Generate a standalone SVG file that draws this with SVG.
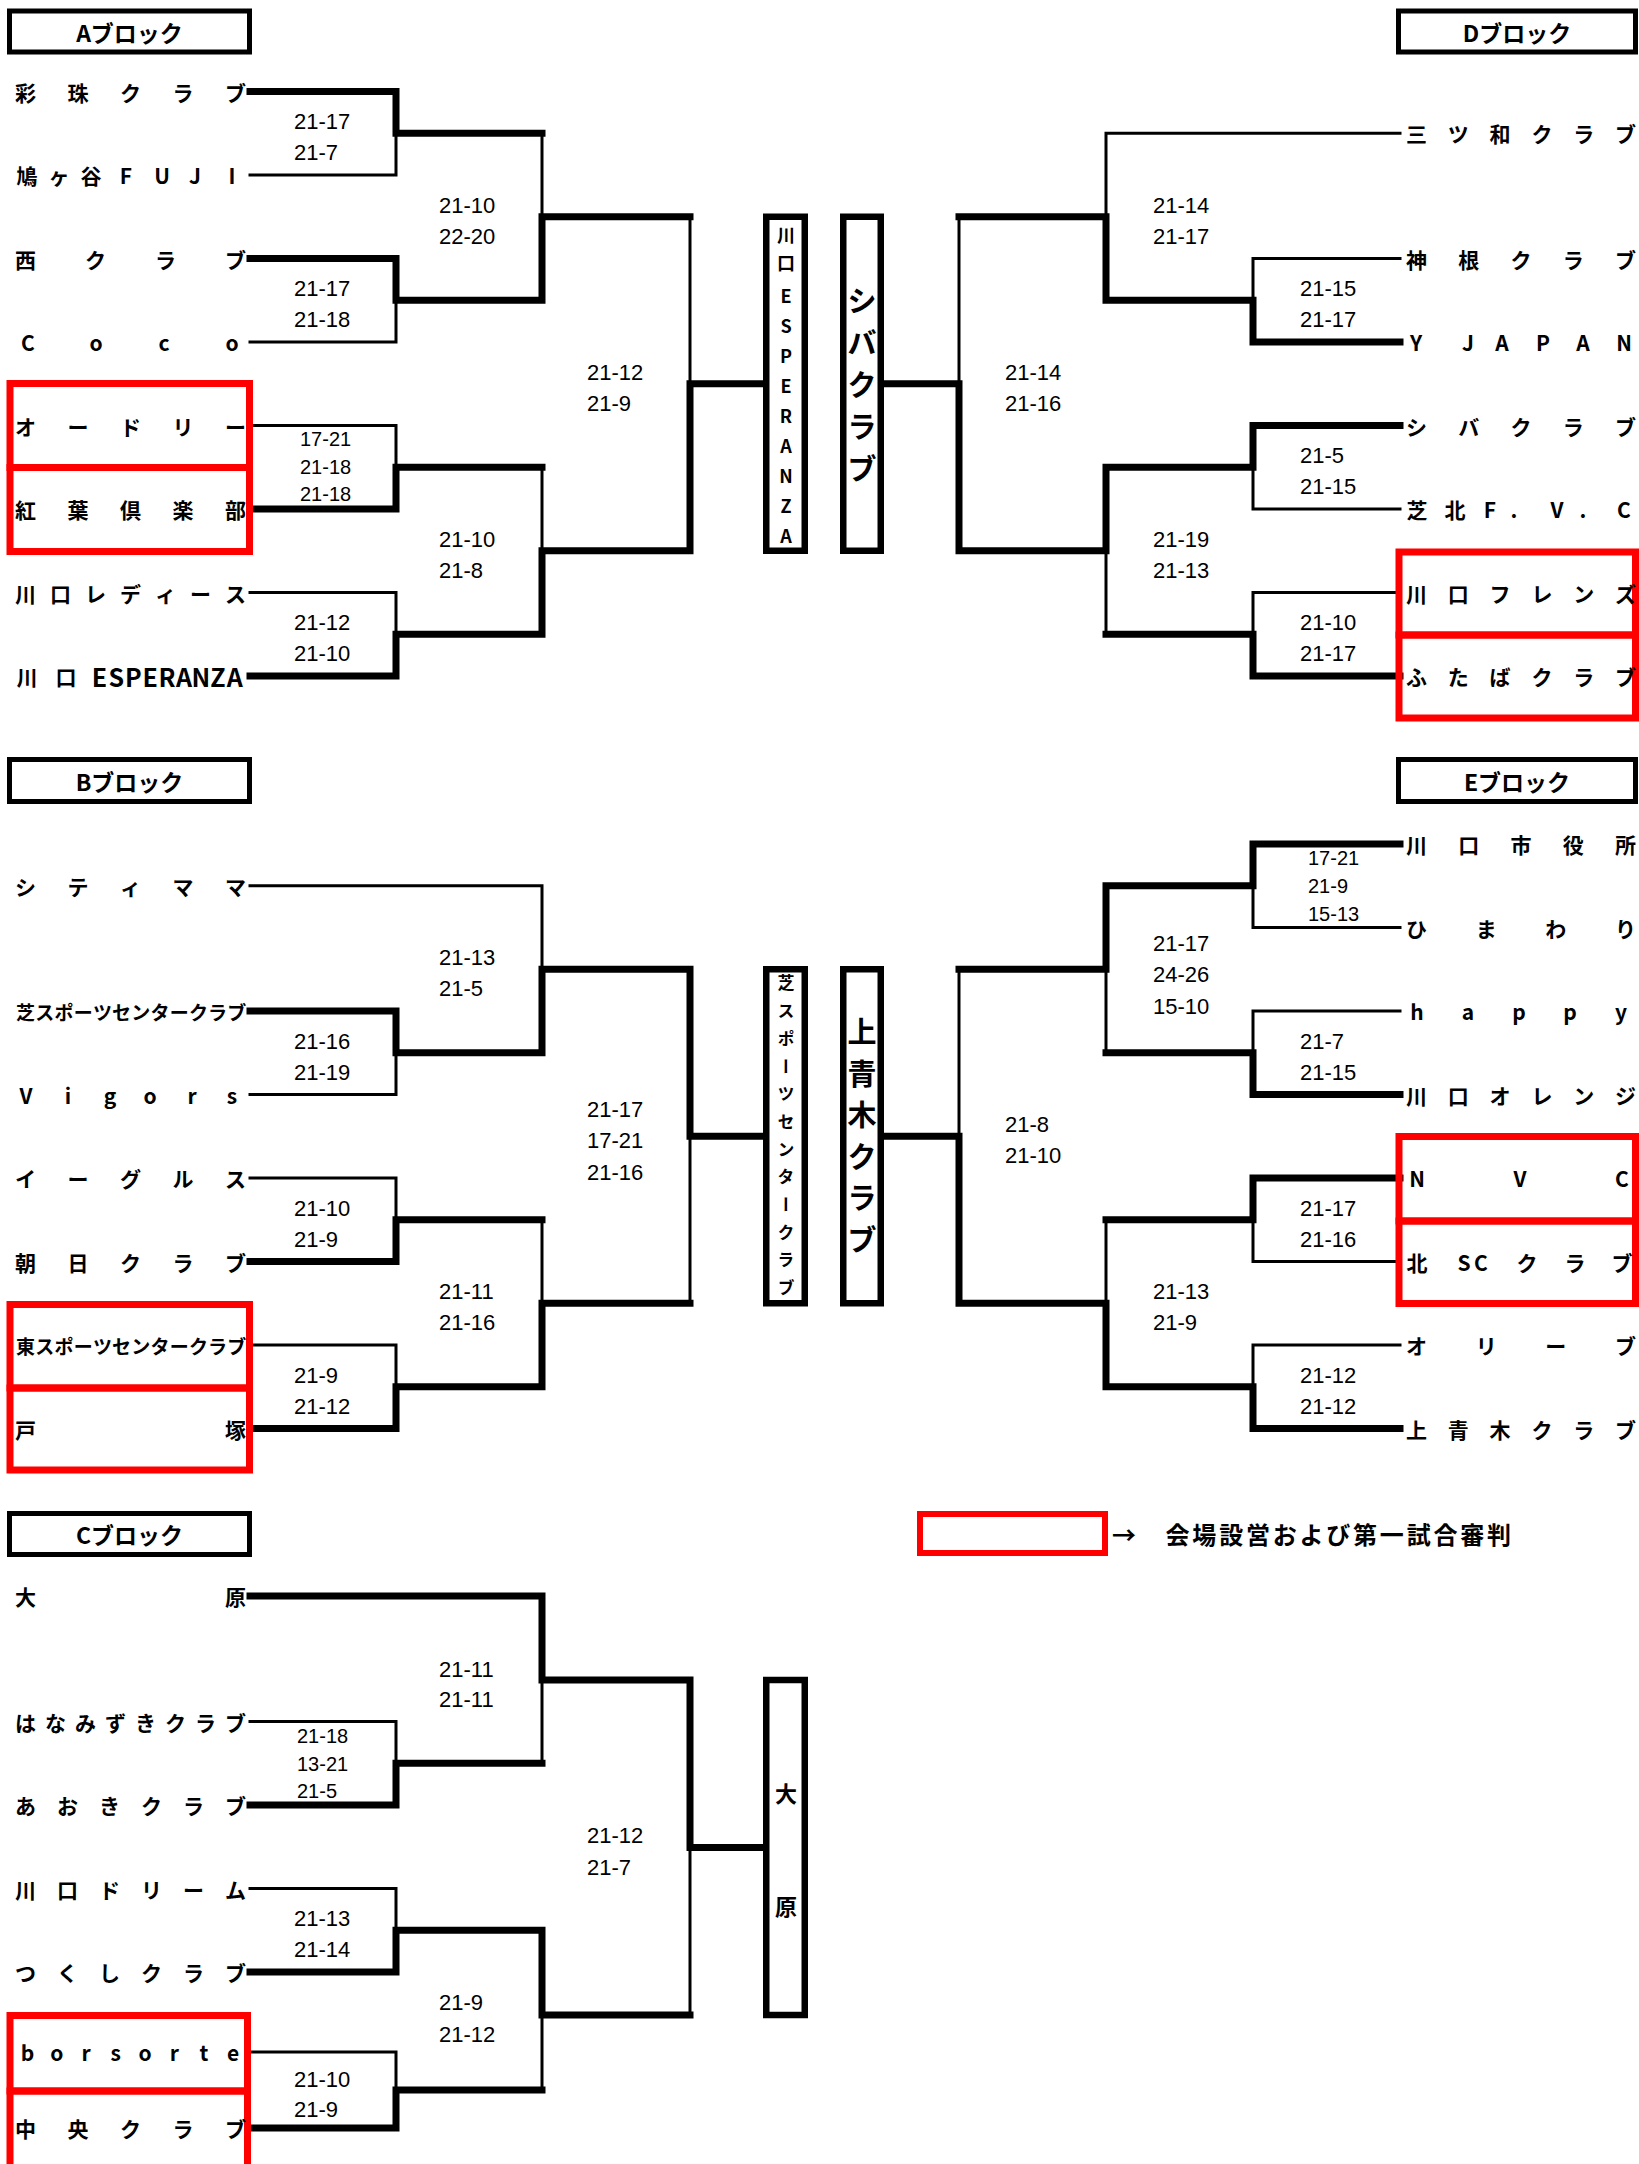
<svg xmlns="http://www.w3.org/2000/svg" width="1639" height="2164" viewBox="0 0 1639 2164">
<style>
.thk{fill:none;stroke:#000;stroke-width:7;stroke-linecap:square;stroke-linejoin:miter}
.thn{fill:none;stroke:#000;stroke-width:3;stroke-linecap:square}
.red{fill:none;stroke:#ff0000;stroke-width:7}
.hdr{fill:none;stroke:#000;stroke-width:5}
.cbox{fill:none;stroke:#000;stroke-width:6.5}
.nm{font-family:"Noto Sans CJK JP","Noto Sans CJK SC",sans-serif;font-weight:700;font-size:21px;text-anchor:middle;dominant-baseline:central;fill:#000}
.nm12{font-size:19px}
.ht{font-family:"Noto Sans CJK JP",sans-serif;font-weight:700;font-size:23px;text-anchor:middle;dominant-baseline:central}
.sc{font-family:"Liberation Sans",Arial,sans-serif;font-size:22px;fill:#000}
.scs{font-size:20px}
.vt{font-family:"Noto Sans CJK JP",sans-serif;font-weight:700;text-anchor:middle;dominant-baseline:central}
</style>
<rect width="1639" height="2164" fill="#fff"/>

<g id="headers">
<g id="hdr-a"><rect class="hdr" x="9.5" y="11" width="240" height="41"/><text class="ht" x="129.5" y="31.5">Aブロック</text></g>
<g id="hdr-b"><rect class="hdr" x="9.5" y="759.5" width="240" height="42"/><text class="ht" x="129.5" y="780.5">Bブロック</text></g>
<g id="hdr-c"><rect class="hdr" x="9.5" y="1513.5" width="240" height="41"/><text class="ht" x="129.5" y="1534">Cブロック</text></g>
<g id="hdr-d"><rect class="hdr" x="1398.5" y="11" width="237" height="41"/><text class="ht" x="1517" y="31.5">Dブロック</text></g>
<g id="hdr-e"><rect class="hdr" x="1398.5" y="759.5" width="237" height="42"/><text class="ht" x="1517" y="780.5">Eブロック</text></g>
</g>

<g id="connectors">
<!-- A block -->
<path class="thk" d="M250,91.5 H396 V133.25 H542"/>
<path class="thk" d="M250,258.5 H396 V300.25 H542 V216.75 H690"/>
<path class="thk" d="M250,509 H396 V467.25 H542"/>
<path class="thk" d="M250,676 H396 V634.25 H542 V550.75 H690 V383.75 H763"/>
<path class="thn" d="M250,175 H396 V133.25"/>
<path class="thn" d="M250,342 H396 V300.25"/>
<path class="thn" d="M250,425.5 H396 V467.25"/>
<path class="thn" d="M250,592.5 H396 V634.25"/>
<path class="thn" d="M542,133.25 V216.75"/>
<path class="thn" d="M542,467.25 V550.75"/>
<path class="thn" d="M690,216.75 V383.75"/>
<!-- D block -->
<path class="thk" d="M1400,342 H1253 V300.25 H1106 V216.75 H959"/>
<path class="thk" d="M1400,425.5 H1253 V467.25 H1106 V550.75 H959 V383.75 H884"/>
<path class="thk" d="M1400,676 H1253 V634.25 H1106"/>
<path class="thn" d="M1400,133.25 H1106 V216.75"/>
<path class="thn" d="M1400,258.5 H1253 V300.25"/>
<path class="thn" d="M1400,509 H1253 V467.25"/>
<path class="thn" d="M1400,592.5 H1253 V634.25"/>
<path class="thn" d="M1106,634.25 V550.75"/>
<path class="thn" d="M959,216.75 V383.75"/>
<!-- B block -->
<path class="thk" d="M250,1011 H396 V1052.75 H542 V969.25 H690 V1136.25 H763"/>
<path class="thk" d="M250,1261.5 H396 V1219.75 H542"/>
<path class="thk" d="M250,1428.5 H396 V1386.75 H542 V1303.25 H690"/>
<path class="thn" d="M250,885.75 H542 V969.25"/>
<path class="thn" d="M250,1094.5 H396 V1052.75"/>
<path class="thn" d="M250,1178 H396 V1219.75"/>
<path class="thn" d="M250,1345 H396 V1386.75"/>
<path class="thn" d="M542,1219.75 V1303.25"/>
<path class="thn" d="M690,1303.25 V1136.25"/>
<!-- E block -->
<path class="thk" d="M1400,844 H1253 V885.75 H1106 V969.25 H959"/>
<path class="thk" d="M1400,1094.5 H1253 V1052.75 H1106"/>
<path class="thk" d="M1400,1178 H1253 V1219.75 H1106"/>
<path class="thk" d="M1400,1428.5 H1253 V1386.75 H1106 V1303.25 H959 V1136.25 H884"/>
<path class="thn" d="M1400,927.5 H1253 V885.75"/>
<path class="thn" d="M1400,1011 H1253 V1052.75"/>
<path class="thn" d="M1106,969.25 V1052.75"/>
<path class="thn" d="M1400,1261.5 H1253 V1219.75"/>
<path class="thn" d="M1400,1345 H1253 V1386.75"/>
<path class="thn" d="M1106,1219.75 V1303.25"/>
<path class="thn" d="M959,969.25 V1136.25"/>
<!-- C block -->
<path class="thk" d="M250,1596 H542 V1680 H690 V1847.5 H763"/>
<path class="thk" d="M250,1805 H396 V1763.25 H542"/>
<path class="thk" d="M250,1972 H396 V1930.25 H542 V2015 H690"/>
<path class="thk" d="M250,2128 H396 V2090 H542"/>
<path class="thn" d="M250,1721.5 H396 V1763.25"/>
<path class="thn" d="M542,1763.25 V1680"/>
<path class="thn" d="M250,1888.5 H396 V1930.25"/>
<path class="thn" d="M250,2052 H396 V2090"/>
<path class="thn" d="M542,2090 V2015"/>
<path class="thn" d="M690,2015 V1847.5"/>
</g>

<g id="scores">
<!-- A -->
<text class="sc" x="294" y="129">21-17</text><text class="sc" x="294" y="160">21-7</text>
<text class="sc" x="294" y="296">21-17</text><text class="sc" x="294" y="327">21-18</text>
<text class="sc scs" x="300" y="446">17-21</text><text class="sc scs" x="300" y="474">21-18</text><text class="sc scs" x="300" y="501">21-18</text>
<text class="sc" x="294" y="630">21-12</text><text class="sc" x="294" y="661">21-10</text>
<text class="sc" x="439" y="213">21-10</text><text class="sc" x="439" y="244">22-20</text>
<text class="sc" x="439" y="547">21-10</text><text class="sc" x="439" y="578">21-8</text>
<text class="sc" x="587" y="380">21-12</text><text class="sc" x="587" y="411">21-9</text>
<!-- D -->
<text class="sc" x="1300" y="296">21-15</text><text class="sc" x="1300" y="327">21-17</text>
<text class="sc" x="1300" y="463">21-5</text><text class="sc" x="1300" y="494">21-15</text>
<text class="sc" x="1300" y="630">21-10</text><text class="sc" x="1300" y="661">21-17</text>
<text class="sc" x="1153" y="213">21-14</text><text class="sc" x="1153" y="244">21-17</text>
<text class="sc" x="1153" y="547">21-19</text><text class="sc" x="1153" y="578">21-13</text>
<text class="sc" x="1005" y="380">21-14</text><text class="sc" x="1005" y="411">21-16</text>
<!-- B -->
<text class="sc" x="294" y="1049">21-16</text><text class="sc" x="294" y="1080">21-19</text>
<text class="sc" x="294" y="1216">21-10</text><text class="sc" x="294" y="1247">21-9</text>
<text class="sc" x="294" y="1383">21-9</text><text class="sc" x="294" y="1414">21-12</text>
<text class="sc" x="439" y="965">21-13</text><text class="sc" x="439" y="996">21-5</text>
<text class="sc" x="439" y="1299">21-11</text><text class="sc" x="439" y="1330">21-16</text>
<text class="sc" x="587" y="1117">21-17</text><text class="sc" x="587" y="1148">17-21</text><text class="sc" x="587" y="1180">21-16</text>
<!-- E -->
<text class="sc scs" x="1308" y="865">17-21</text><text class="sc scs" x="1308" y="893">21-9</text><text class="sc scs" x="1308" y="921">15-13</text>
<text class="sc" x="1300" y="1049">21-7</text><text class="sc" x="1300" y="1080">21-15</text>
<text class="sc" x="1300" y="1216">21-17</text><text class="sc" x="1300" y="1247">21-16</text>
<text class="sc" x="1300" y="1383">21-12</text><text class="sc" x="1300" y="1414">21-12</text>
<text class="sc" x="1153" y="951">21-17</text><text class="sc" x="1153" y="982">24-26</text><text class="sc" x="1153" y="1014">15-10</text>
<text class="sc" x="1153" y="1299">21-13</text><text class="sc" x="1153" y="1330">21-9</text>
<text class="sc" x="1005" y="1132">21-8</text><text class="sc" x="1005" y="1163">21-10</text>
<!-- C -->
<text class="sc scs" x="297" y="1743">21-18</text><text class="sc scs" x="297" y="1771">13-21</text><text class="sc scs" x="297" y="1798">21-5</text>
<text class="sc" x="294" y="1926">21-13</text><text class="sc" x="294" y="1957">21-14</text>
<text class="sc" x="294" y="2087">21-10</text><text class="sc" x="294" y="2117">21-9</text>
<text class="sc" x="439" y="1677">21-11</text><text class="sc" x="439" y="1707">21-11</text>
<text class="sc" x="439" y="2010">21-9</text><text class="sc" x="439" y="2042">21-12</text>
<text class="sc" x="587" y="1843">21-12</text><text class="sc" x="587" y="1875">21-7</text>
</g>

<g id="red-boxes">
<rect class="red" x="10" y="383.5" width="239.5" height="84"/>
<rect class="red" x="10" y="467.5" width="239.5" height="84"/>
<rect class="red" x="1399" y="552" width="236.5" height="83"/>
<rect class="red" x="1399" y="635" width="236.5" height="83"/>
<rect class="red" x="10" y="1304.5" width="239.5" height="83.5"/>
<rect class="red" x="10" y="1388" width="239.5" height="82"/>
<rect class="red" x="1399" y="1136.5" width="236.5" height="84.5"/>
<rect class="red" x="1399" y="1221" width="236.5" height="82.5"/>
<rect class="red" x="10" y="2015.5" width="237.5" height="75.5"/>
<rect class="red" x="10" y="2091" width="237.5" height="80"/>
</g>

<g id="teams-a">
<g id="t-a1"><text class="nm" x="25.5 78 130.5 183 235.5" y="91.5">彩珠クラブ</text></g>
<g id="t-a2"><text class="nm" x="27 59 91 126 162 195 232" y="175">鳩ヶ谷FUJI</text></g>
<g id="t-a3"><text class="nm" x="25.5 95.5 165.5 235.5" y="258.5">西クラブ</text></g>
<g id="t-a4"><text class="nm" x="28 96 164 232" y="342">Coco</text></g>
<g id="t-a5"><text class="nm" x="25.5 78 130.5 183 235.5" y="425.5">オードリー</text></g>
<g id="t-a6"><text class="nm" x="25.5 78 130.5 183 235.5" y="509">紅葉倶楽部</text></g>
<g id="t-a7"><text class="nm" x="25.5 60.5 95.5 130.5 165.5 200.5 235.5" y="592.5">川口レディース</text></g>
<g id="t-a8"><text class="nm" x="27 66 99.5 116.4 133.3 150.2 167.1 184 200.9 217.8 234.7" y="676">川口<tspan font-size="25">ESPERANZA</tspan></text></g>
</g>

<g id="teams-d">
<g id="t-d1"><text class="nm" x="1416.5 1458.3 1500.1 1541.9 1583.7 1625.5" y="133.25">三ツ和クラブ</text></g>
<g id="t-d2"><text class="nm" x="1416.5 1468.8 1521 1573.3 1625.5" y="258.5">神根クラブ</text></g>
<g id="t-d3"><text class="nm" x="1416 1442 1468 1502 1543 1583 1624" y="342">Y JAPAN</text></g>
<g id="t-d4"><text class="nm" x="1416.5 1468.8 1521 1573.3 1625.5" y="425.5">シバクラブ</text></g>
<g id="t-d5"><text class="nm" x="1417 1455 1490 1514 1557 1583 1624" y="509">芝北F.V.C</text></g>
<g id="t-d6"><text class="nm" x="1416.5 1458.3 1500.1 1541.9 1583.7 1625.5" y="592.5">川口フレンズ</text></g>
<g id="t-d7"><text class="nm" x="1416.5 1458.3 1500.1 1541.9 1583.7 1625.5" y="676">ふたばクラブ</text></g>
</g>

<g id="teams-b">
<g id="t-b1"><text class="nm" x="25.5 78 130.5 183 235.5" y="885.75">シティママ</text></g>
<g id="t-b2"><text class="nm nm12" x="25.6 44.8 64 83.2 102.4 121.6 140.8 160 179.2 198.4 217.6 236.8" y="1011">芝スポーツセンタークラブ</text></g>
<g id="t-b3"><text class="nm" x="26 68 110 150 192 232" y="1094.5">Vigors</text></g>
<g id="t-b4"><text class="nm" x="25.5 78 130.5 183 235.5" y="1178">イーグルス</text></g>
<g id="t-b5"><text class="nm" x="25.5 78 130.5 183 235.5" y="1261.5">朝日クラブ</text></g>
<g id="t-b6"><text class="nm nm12" x="25.6 44.8 64 83.2 102.4 121.6 140.8 160 179.2 198.4 217.6 236.8" y="1345">東スポーツセンタークラブ</text></g>
<g id="t-b7"><text class="nm" x="25.5 235.5" y="1428.5">戸塚</text></g>
</g>

<g id="teams-e">
<g id="t-e1"><text class="nm" x="1416.5 1468.8 1521 1573.3 1625.5" y="844">川口市役所</text></g>
<g id="t-e2"><text class="nm" x="1416.5 1486.2 1555.8 1625.5" y="927.5">ひまわり</text></g>
<g id="t-e3"><text class="nm" x="1417 1468 1519 1570 1621" y="1011">happy</text></g>
<g id="t-e4"><text class="nm" x="1416.5 1458.3 1500.1 1541.9 1583.7 1625.5" y="1094.5">川口オレンジ</text></g>
<g id="t-e5"><text class="nm" x="1417 1520 1622" y="1178">NVC</text></g>
<g id="t-e6"><text class="nm" x="1417 1464 1481 1527 1575 1622" y="1261.5">北SCクラブ</text></g>
<g id="t-e7"><text class="nm" x="1416.5 1486.2 1555.8 1625.5" y="1345">オリーブ</text></g>
<g id="t-e8"><text class="nm" x="1416.5 1458.3 1500.1 1541.9 1583.7 1625.5" y="1428.5">上青木クラブ</text></g>
</g>

<g id="teams-c">
<g id="t-c1"><text class="nm" x="25.5 235.5" y="1596">大原</text></g>
<g id="t-c2"><text class="nm" x="25.5 55.5 85.5 115.5 145.5 175.5 205.5 235.5" y="1721.5">はなみずきクラブ</text></g>
<g id="t-c3"><text class="nm" x="25.5 67.5 109.5 151.5 193.5 235.5" y="1805">あおきクラブ</text></g>
<g id="t-c4"><text class="nm" x="25.5 67.5 109.5 151.5 193.5 235.5" y="1888.5">川口ドリーム</text></g>
<g id="t-c5"><text class="nm" x="25.5 67.5 109.5 151.5 193.5 235.5" y="1972">つくしクラブ</text></g>
<g id="t-c6"><text class="nm" x="27.5 56.9 86.2 115.6 145 174.4 203.8 233" y="2052">borsorte</text></g>
<g id="t-c7"><text class="nm" x="25.5 78 130.5 183 235.5" y="2128">中央クラブ</text></g>
</g>

<g id="winners">
<g id="w-a"><rect class="cbox" x="766.25" y="216.75" width="38.5" height="334"/>
<text class="vt" font-size="18" x="786 786 786 786 786 786 786 786 786 786 786" y="234 262 295 325 355 385 415 445 475 505 535">川口ESPERANZA</text></g>
<g id="w-d"><rect class="cbox" x="843.25" y="216.75" width="37.5" height="334"/>
<text class="vt" font-size="29" x="862 862 862 862 862" y="299 341 383 425 467">シバクラブ</text></g>
<g id="w-b"><rect class="cbox" x="766.25" y="969.25" width="38.5" height="334"/>
<text class="vt" font-size="17" x="786" y="983 1010.7 1038.4 1066.1 1093.8 1121.5 1149.2 1176.9 1204.6 1232.3 1260 1287.7" style="writing-mode:vertical-rl">芝スポーツセンタークラブ</text></g>
<g id="w-e"><rect class="cbox" x="843.25" y="969.25" width="37.5" height="334"/>
<text class="vt" font-size="29" x="862 862 862 862 862 862" y="1030 1071.5 1113 1154.5 1196 1237.5">上青木クラブ</text></g>
<g id="w-c"><rect class="cbox" x="766.25" y="1680" width="38.5" height="335"/>
<text class="vt" font-size="22" x="786 786" y="1792 1905">大原</text></g>
</g>

<g id="legend">
<rect x="920" y="1514" width="185" height="39" fill="none" stroke="#ff0000" stroke-width="6"/>
<text x="1112" y="1533" font-family="Noto Sans CJK JP, sans-serif" font-weight="700" font-size="24" dominant-baseline="central" textLength="399" lengthAdjust="spacing">→　会場設営および第一試合審判</text>
</g>
</svg>
